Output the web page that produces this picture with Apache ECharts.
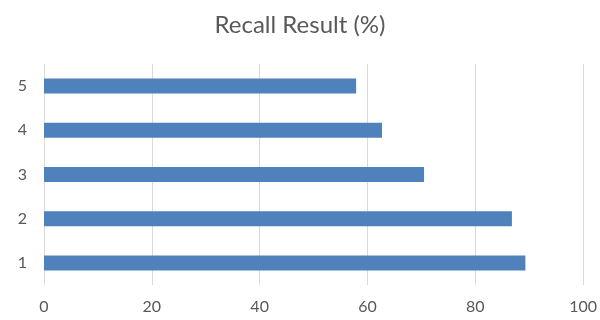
<!DOCTYPE html>
<html>
<head>
<meta charset="utf-8">
<script src="https://cdn.jsdelivr.net/npm/echarts@6/dist/echarts.min.js"></script>
<style>
  html, body { margin: 0; padding: 0; background: #fff; }
  #chart { width: 600px; height: 320px; }
</style>
</head>
<body>
<div id="chart"></div>
<script>
// Recall per group, bottom (1) to top (5)
const categories = ['1', '2', '3', '4', '5'];
const recallValues = [89.3, 86.8, 70.5, 62.7, 57.9];
const xTicks = [0, 20, 40, 60, 80, 100];

const chart = echarts.init(document.getElementById('chart'));
const font = 'Lato, "Open Sans", sans-serif';

chart.setOption({
  animation: false,
  backgroundColor: '#ffffff',
  title: {
    text: 'Recall Result (%)',
    left: 'center',
    top: 8,
    textStyle: { fontFamily: font, fontSize: 24, fontWeight: 'normal', color: '#595959' }
  },
  grid: { left: 44, right: 14, top: 64, bottom: 35 },
  xAxis: {
    type: 'value',
    min: xTicks[0],
    max: xTicks[xTicks.length - 1],
    interval: xTicks[1] - xTicks[0],
    axisLine: { show: false },
    axisTick: { show: false },
    axisLabel: { fontFamily: font, fontSize: 16, color: '#595959', margin: 14 },
    splitLine: { show: true, lineStyle: { color: '#d9d9d9', width: 1 } }
  },
  yAxis: {
    type: 'category',
    data: categories,
    axisLine: { show: false },
    axisTick: { show: false },
    axisLabel: { fontFamily: font, fontSize: 16, color: '#595959', margin: 17 },
    splitLine: { show: false }
  },
  series: [{
    type: 'bar',
    data: recallValues,
    barWidth: 15,
    itemStyle: { color: '#4f81bd' }
  }]
});
</script>
</body>
</html>
